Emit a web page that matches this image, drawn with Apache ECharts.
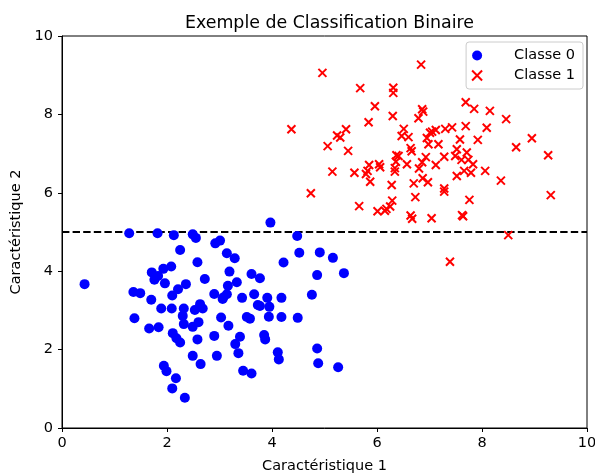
<!DOCTYPE html>
<html>
<head>
<meta charset="utf-8">
<script src="https://cdn.jsdelivr.net/npm/echarts@6/dist/echarts.min.js"></script>
<style>html,body{margin:0;padding:0;background:#fff;}#c{width:595px;height:474px;}</style>
</head>
<body>
<div id="c"></div>
<script>
const titleText = 'Exemple de Classification Binaire';
const xName = 'Caractéristique 1';
const yName = 'Caractéristique 2';
const legendNames = ['Classe 0', 'Classe 1'];
const xTicks = [0, 2, 4, 6, 8, 10];
const yTicks = [0, 2, 4, 6, 8, 10];
const threshold = 5;

const classe0 = [
[0.43,3.67],[1.28,4.97],[1.82,4.97],[2.13,4.92],[2.49,4.94],[2.55,4.85],[2.92,4.71],[3.01,4.78],
[2.25,4.54],[3.14,4.46],[3.29,4.33],[2.58,4.23],[1.71,3.97],[1.93,4.06],[2.08,4.12],[1.76,3.78],
[1.83,3.88],[1.96,3.69],[2.21,3.54],[2.36,3.67],[2.10,3.38],[2.72,3.80],[3.19,3.99],[3.33,3.72],
[1.36,3.47],[1.49,3.44],[1.70,3.27],[1.89,3.05],[2.09,3.05],[2.32,3.05],[2.30,2.86],[2.53,3.01],
[2.63,3.16],[2.68,3.05],[2.32,2.65],[2.49,2.58],[2.60,2.70],[2.90,3.42],[3.07,3.33],[3.14,3.41],
[3.03,2.82],[3.17,2.61],[1.38,2.80],[1.66,2.54],[1.84,2.57],[2.11,2.42],[2.18,2.29],[2.25,2.18],
[2.58,2.26],[2.90,2.35],[3.30,2.14],[2.49,1.84],[2.64,1.63],[2.95,1.84],[1.94,1.59],[1.99,1.45],
[2.17,1.27],[2.10,1.01],[2.34,0.77],[3.36,1.91],[3.97,5.24],[4.48,4.90],[4.52,4.47],[4.91,4.48],
[5.16,4.34],[4.22,4.22],[3.61,3.93],[3.77,3.82],[3.16,3.63],[4.86,3.90],[5.37,3.95],[3.06,3.29],
[3.43,3.32],[3.66,3.41],[3.91,3.32],[4.18,3.32],[4.76,3.40],[3.73,3.14],[3.77,3.11],[3.95,3.09],
[3.94,2.84],[4.18,2.83],[4.49,2.81],[3.52,2.83],[3.58,2.79],[3.39,2.33],[3.85,2.37],[3.87,2.26],
[4.11,1.93],[4.13,1.75],[4.86,2.03],[4.88,1.65],[5.26,1.55],[3.45,1.46],[3.61,1.39]
];

const classe1 = [
[4.96,9.06],[6.84,9.27],[5.68,8.67],[6.31,8.68],[6.31,8.55],[5.96,8.21],[6.86,8.13],[6.88,8.07],
[6.79,7.90],[6.30,7.96],[5.84,7.80],[4.37,7.62],[5.41,7.62],[5.24,7.46],[5.30,7.41],[5.06,7.19],
[5.45,7.07],[6.51,7.63],[6.47,7.45],[6.60,7.42],[6.64,7.14],[6.66,7.06],[6.95,7.40],[7.05,7.56],
[7.12,7.60],[6.98,7.24],[6.41,6.94],[6.36,6.79],[6.57,6.73],[6.93,6.91],[6.86,6.78],[7.12,6.71],
[5.85,6.71],[5.82,6.56],[6.06,6.65],[6.34,6.63],[6.34,6.54],[6.80,6.62],[5.15,6.54],[5.57,6.51],
[5.79,6.48],[5.87,6.28],[6.28,6.20],[6.70,6.24],[6.87,6.37],[6.97,6.27],[6.73,5.89],[4.74,5.99],
[5.66,5.66],[6.01,5.53],[6.15,5.54],[6.18,5.59],[6.25,5.65],[6.29,5.80],[6.64,5.42],[6.67,5.34],
[7.04,5.35],[7.69,8.31],[7.85,8.14],[8.15,8.09],[8.46,7.88],[8.09,7.66],[7.69,7.70],[7.43,7.67],
[7.30,7.63],[8.95,7.39],[8.65,7.16],[7.92,7.35],[7.58,7.36],[7.17,7.24],[9.26,6.96],[7.52,7.11],
[7.71,7.03],[7.28,6.92],[7.49,6.94],[7.61,6.84],[7.74,6.84],[7.83,6.73],[8.06,6.56],[7.52,6.43],
[7.66,6.56],[7.79,6.51],[8.36,6.31],[7.28,6.11],[7.28,6.03],[9.31,5.94],[7.76,5.82],[7.62,5.43],
[7.64,5.40],[8.50,4.92],[7.39,4.24],[7.01,7.53],[6.04,6.73],[6.37,6.96]
];

const FONT = 'DejaVu Sans';
const LABEL_SIZE = 14.5;
const xPath = 'path://M0,0L10,10M10,0L0,10';

const chart = echarts.init(document.getElementById('c'), null, {renderer: 'canvas'});
chart.setOption({
  animation: false,
  backgroundColor: '#ffffff',
  title: {
    text: titleText, left: 324.5, textAlign: 'center', top: 10,
    textStyle: {fontFamily: FONT, fontSize: 17.4, fontWeight: 'normal', color: '#000'}
  },
  legend: {
    orient: 'vertical', right: 12, top: 42,
    padding: [6, 8, 6, 5], itemGap: 5,
    backgroundColor: 'rgba(255,255,255,0.8)', borderColor: '#cccccc', borderWidth: 1, borderRadius: 3,
    itemWidth: 10, itemHeight: 10,
    textStyle: {fontFamily: FONT, fontSize: LABEL_SIZE, color: '#000', padding: [0, 0, 0, 27]},
    data: [
      {name: legendNames[0], icon: 'circle', itemStyle: {color: '#0000ff'}},
      {name: legendNames[1], icon: xPath, itemStyle: {color: '#ff0000', borderColor: '#ff0000', borderWidth: 2}}
    ]
  },
  grid: {left: 62, top: 36, width: 525, height: 392, outerBoundsMode: 'none', containLabel: false,
         show: true, borderColor: '#000', borderWidth: 1, backgroundColor: 'transparent'},
  xAxis: {
    type: 'value', min: xTicks[0], max: xTicks[xTicks.length - 1], interval: 2,
    name: xName, nameLocation: 'middle', nameGap: 31,
    nameTextStyle: {fontFamily: FONT, fontSize: LABEL_SIZE, color: '#000'},
    axisLine: {show: true, lineStyle: {color: '#000', width: 1}},
    axisTick: {show: true, length: 4, lineStyle: {color: '#000'}},
    axisLabel: {fontFamily: FONT, fontSize: LABEL_SIZE, color: '#000', margin: 8},
    splitLine: {show: false}
  },
  yAxis: {
    type: 'value', min: yTicks[0], max: yTicks[yTicks.length - 1], interval: 2,
    name: yName, nameLocation: 'middle', nameGap: 34, nameRotate: 90,
    nameTextStyle: {fontFamily: FONT, fontSize: LABEL_SIZE, color: '#000'},
    axisLine: {show: true, lineStyle: {color: '#000', width: 1}},
    axisTick: {show: true, length: 4, lineStyle: {color: '#000'}},
    axisLabel: {fontFamily: FONT, fontSize: LABEL_SIZE, color: '#000', margin: 9},
    splitLine: {show: false}
  },
  series: [
    {
      name: 'seuil', type: 'line', z: 1,
      data: [[xTicks[0], threshold], [xTicks[xTicks.length - 1], threshold]],
      symbol: 'none', silent: true,
      lineStyle: {color: '#000', width: 2, type: [7.4, 3.2]}
    },
    {
      name: legendNames[0], type: 'scatter', z: 3, data: classe0,
      symbol: 'circle', symbolSize: 10,
      itemStyle: {color: '#0000ff', opacity: 1}
    },
    {
      name: legendNames[1], type: 'scatter', z: 4, data: classe1,
      symbol: xPath, symbolSize: 8,
      itemStyle: {color: '#ff0000', borderColor: '#ff0000', borderWidth: 2, opacity: 1}
    }
  ]
});
</script>
</body>
</html>
